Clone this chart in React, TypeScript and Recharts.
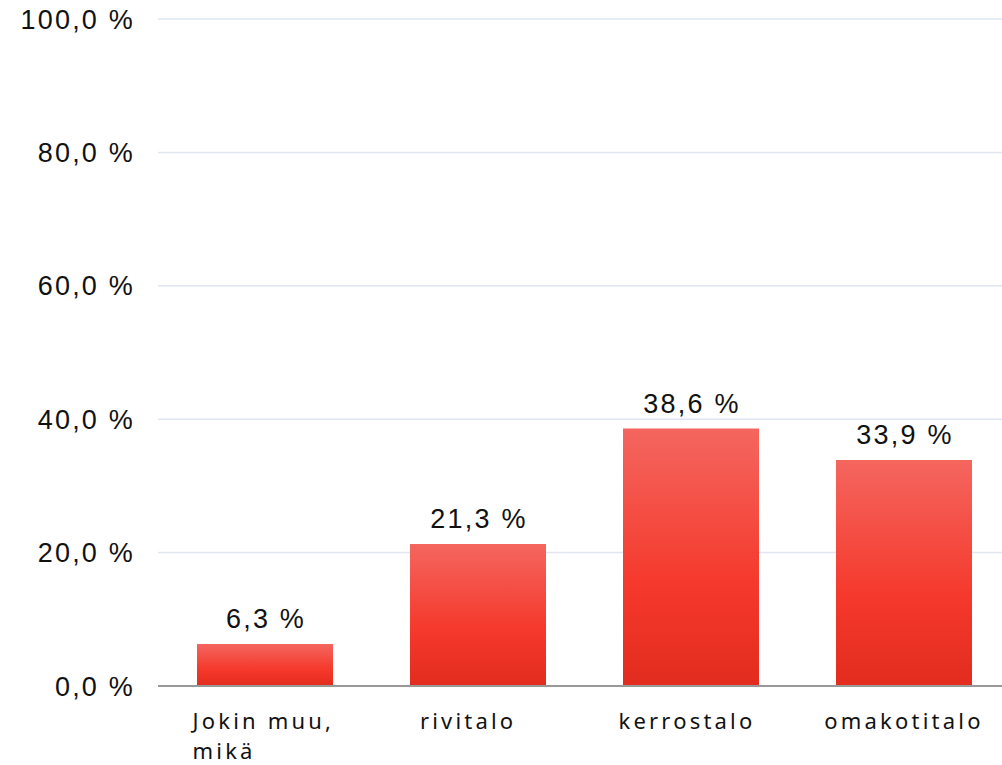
import { BarChart, Bar, XAxis, YAxis, CartesianGrid, LabelList } from "recharts";

const categories = [["Jokin muu,", "mikä"], ["rivitalo"], ["kerrostalo"], ["omakotitalo"]];
const shares = [6.3, 21.3, 38.6, 33.9];
const yTicks = [0, 20, 40, 60, 80, 100];

const data = categories.map((lines, i) => ({ name: lines.join(" "), lines, value: shares[i] }));

const pct = (v: number) => v.toFixed(1).replace(".", ",") + " %";

const numFont = "'Liberation Sans', Arial, sans-serif";
const catFont = "'Noto Sans', 'Open Sans', sans-serif";

function CategoryTick(props: any) {
  const { x, y, payload, index } = props;
  const lines: string[] = data[index] ? data[index].lines : [payload.value];
  const longest = Math.max(...lines.map((l) => l.length));
  const w = longest * 14.4;
  return (
    <text x={x - w / 2} y={y + 35} fill="#111" fontSize={22} fontFamily={catFont} letterSpacing={3.2} textAnchor="start">
      {lines.map((l, i) => (
        <tspan key={i} x={x - w / 2} dy={i === 0 ? 0 : 30}>{l}</tspan>
      ))}
    </text>
  );
}

function ValueLabel(props: any) {
  const { x, y, width, value } = props;
  return (
    <text x={x + width / 2 + 1} y={y - 16} textAnchor="middle" fill="#111" fontSize={27} fontFamily={numFont} letterSpacing={2.2}>
      {pct(value)}
    </text>
  );
}

export default function App() {
  return (
    <div style={{ position: "absolute", left: 0, top: 0, width: 1002, height: 765, overflow: "hidden", background: "#fff" }}>
      <BarChart width={1010} height={765} data={data} margin={{ top: 19, right: 0, bottom: 0, left: 0 }}>
        <defs>
          <linearGradient id="barRed" x1="0" y1="0" x2="0" y2="1">
            <stop offset="0%" stopColor="#f4665f" />
            <stop offset="60%" stopColor="#f5392c" />
            <stop offset="100%" stopColor="#e22c1e" />
          </linearGradient>
        </defs>
        <CartesianGrid vertical={false} stroke="#dde6f1" strokeWidth={1.5} />
        <XAxis
          dataKey="name"
          height={79}
          axisLine={{ stroke: "#999", strokeWidth: 2 }}
          tickLine={false}
          interval={0}
          tick={<CategoryTick />}
        />
        <YAxis
          width={158}
          domain={[0, 100]}
          ticks={yTicks}
          axisLine={false}
          tickLine={false}
          tickSize={0}
          tickMargin={23}
          tickFormatter={pct}
          tick={{ fill: "#111", fontSize: 27, fontFamily: numFont, letterSpacing: 2.2 }}
        />
        <Bar dataKey="value" fill="url(#barRed)" barSize={136} isAnimationActive={false}>
          <LabelList dataKey="value" content={<ValueLabel />} />
        </Bar>
      </BarChart>
    </div>
  );
}
